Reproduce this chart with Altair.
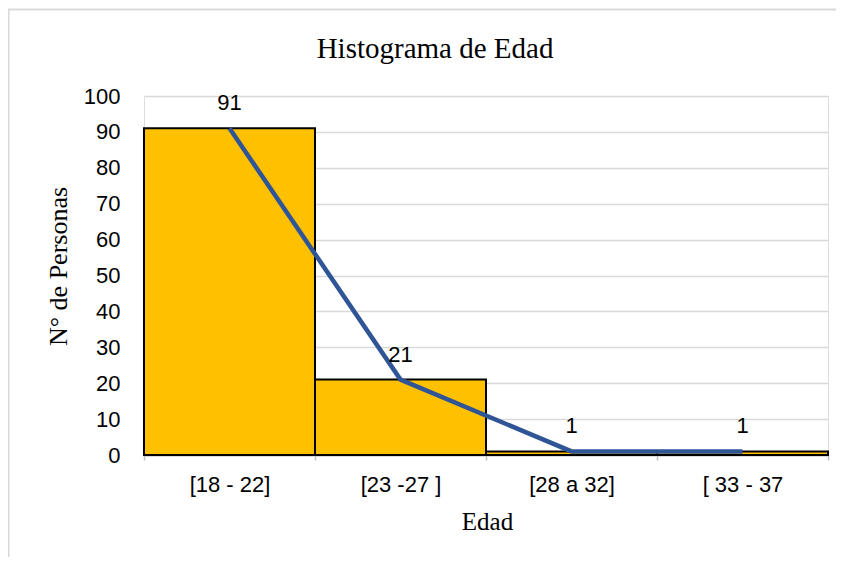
import altair as alt
import pandas as pd

categories = ["[18 - 22]", "[23 -27 ]", "[28 a 32]", "[ 33 - 37"]
counts = [91, 21, 1, 1]
y_ticks = [0, 10, 20, 30, 40, 50, 60, 70, 80, 90, 100]

df = pd.DataFrame({"Edad": categories, "Personas": counts})

W, H = 684, 359

x_enc = alt.X("Edad:N", sort=categories,
              scale=alt.Scale(paddingInner=0, paddingOuter=0),
              axis=alt.Axis(title="Edad", labelFont="Liberation Sans", labelFontSize=22,
                            labelColor="#000000", labelPadding=14, labelAngle=0,
                            ticks=True, tickBand="extent", tickSize=5, tickColor="#BFBFBF",
                            tickWidth=1.5,
                            domain=True, domainColor="#BFBFBF", domainWidth=2,
                            grid=False,
                            titleFont="Liberation Serif", titleFontSize=25, titleFontWeight="normal",
                            titleColor="#000000", titleX=343, titleY=74,
                            titleBaseline="alphabetic", titleAlign="center"))

y_enc = alt.Y("Personas:Q",
              scale=alt.Scale(domain=[0, 100], nice=False),
              axis=alt.Axis(title="N° de Personas", values=y_ticks, tickCount=len(y_ticks),
                            labelOverlap=False,
                            labelFont="Liberation Sans", labelFontSize=22, labelColor="#000000",
                            labelPadding=24, ticks=False, domain=False,
                            grid=True, gridColor="#D9D9D9", gridWidth=1.5,
                            titleFont="Liberation Serif", titleFontSize=26, titleFontWeight="normal",
                            titleColor="#000000", titleX=-86, titleY=170, titleAngle=-90,
                            titleBaseline="middle", titleAlign="center"))

bars = alt.Chart(df).mark_bar(color="#FFC000", stroke="#000000", strokeWidth=2).encode(
    x=x_enc, y=y_enc)

line = alt.Chart(df).mark_line(color="#2F5597", strokeWidth=4.5).encode(
    x=x_enc, y=y_enc)

labels = alt.Chart(df).mark_text(font="Liberation Sans", fontSize=22, color="#000000",
                                 dy=-25, baseline="middle", align="center").encode(
    x=x_enc, y=y_enc, text="Personas:Q")

border = alt.Chart(pd.DataFrame({"b": [0]})).mark_rect(
    fill=None, stroke="#D9D9D9", strokeWidth=2).encode(
    x=alt.value(-135.5), x2=alt.value(760), y=alt.value(-86.5), y2=alt.value(600))

chart = alt.layer(border, bars, line, labels).properties(
    width=W, height=H,
    title=alt.TitleParams("Histograma de Edad", font="Liberation Serif", fontSize=29,
                          fontWeight="normal", color="#000000", anchor="middle",
                          baseline="alphabetic", dx=-51, dy=78.5, offset=0),
    autosize=alt.AutoSizeParams(type="none"),
    padding={"left": 136, "top": 88, "right": 8, "bottom": 102},
).configure_view(stroke=None).configure(background="white")

chart.save("out.html", embed_options={"renderer": "svg", "actions": False})
